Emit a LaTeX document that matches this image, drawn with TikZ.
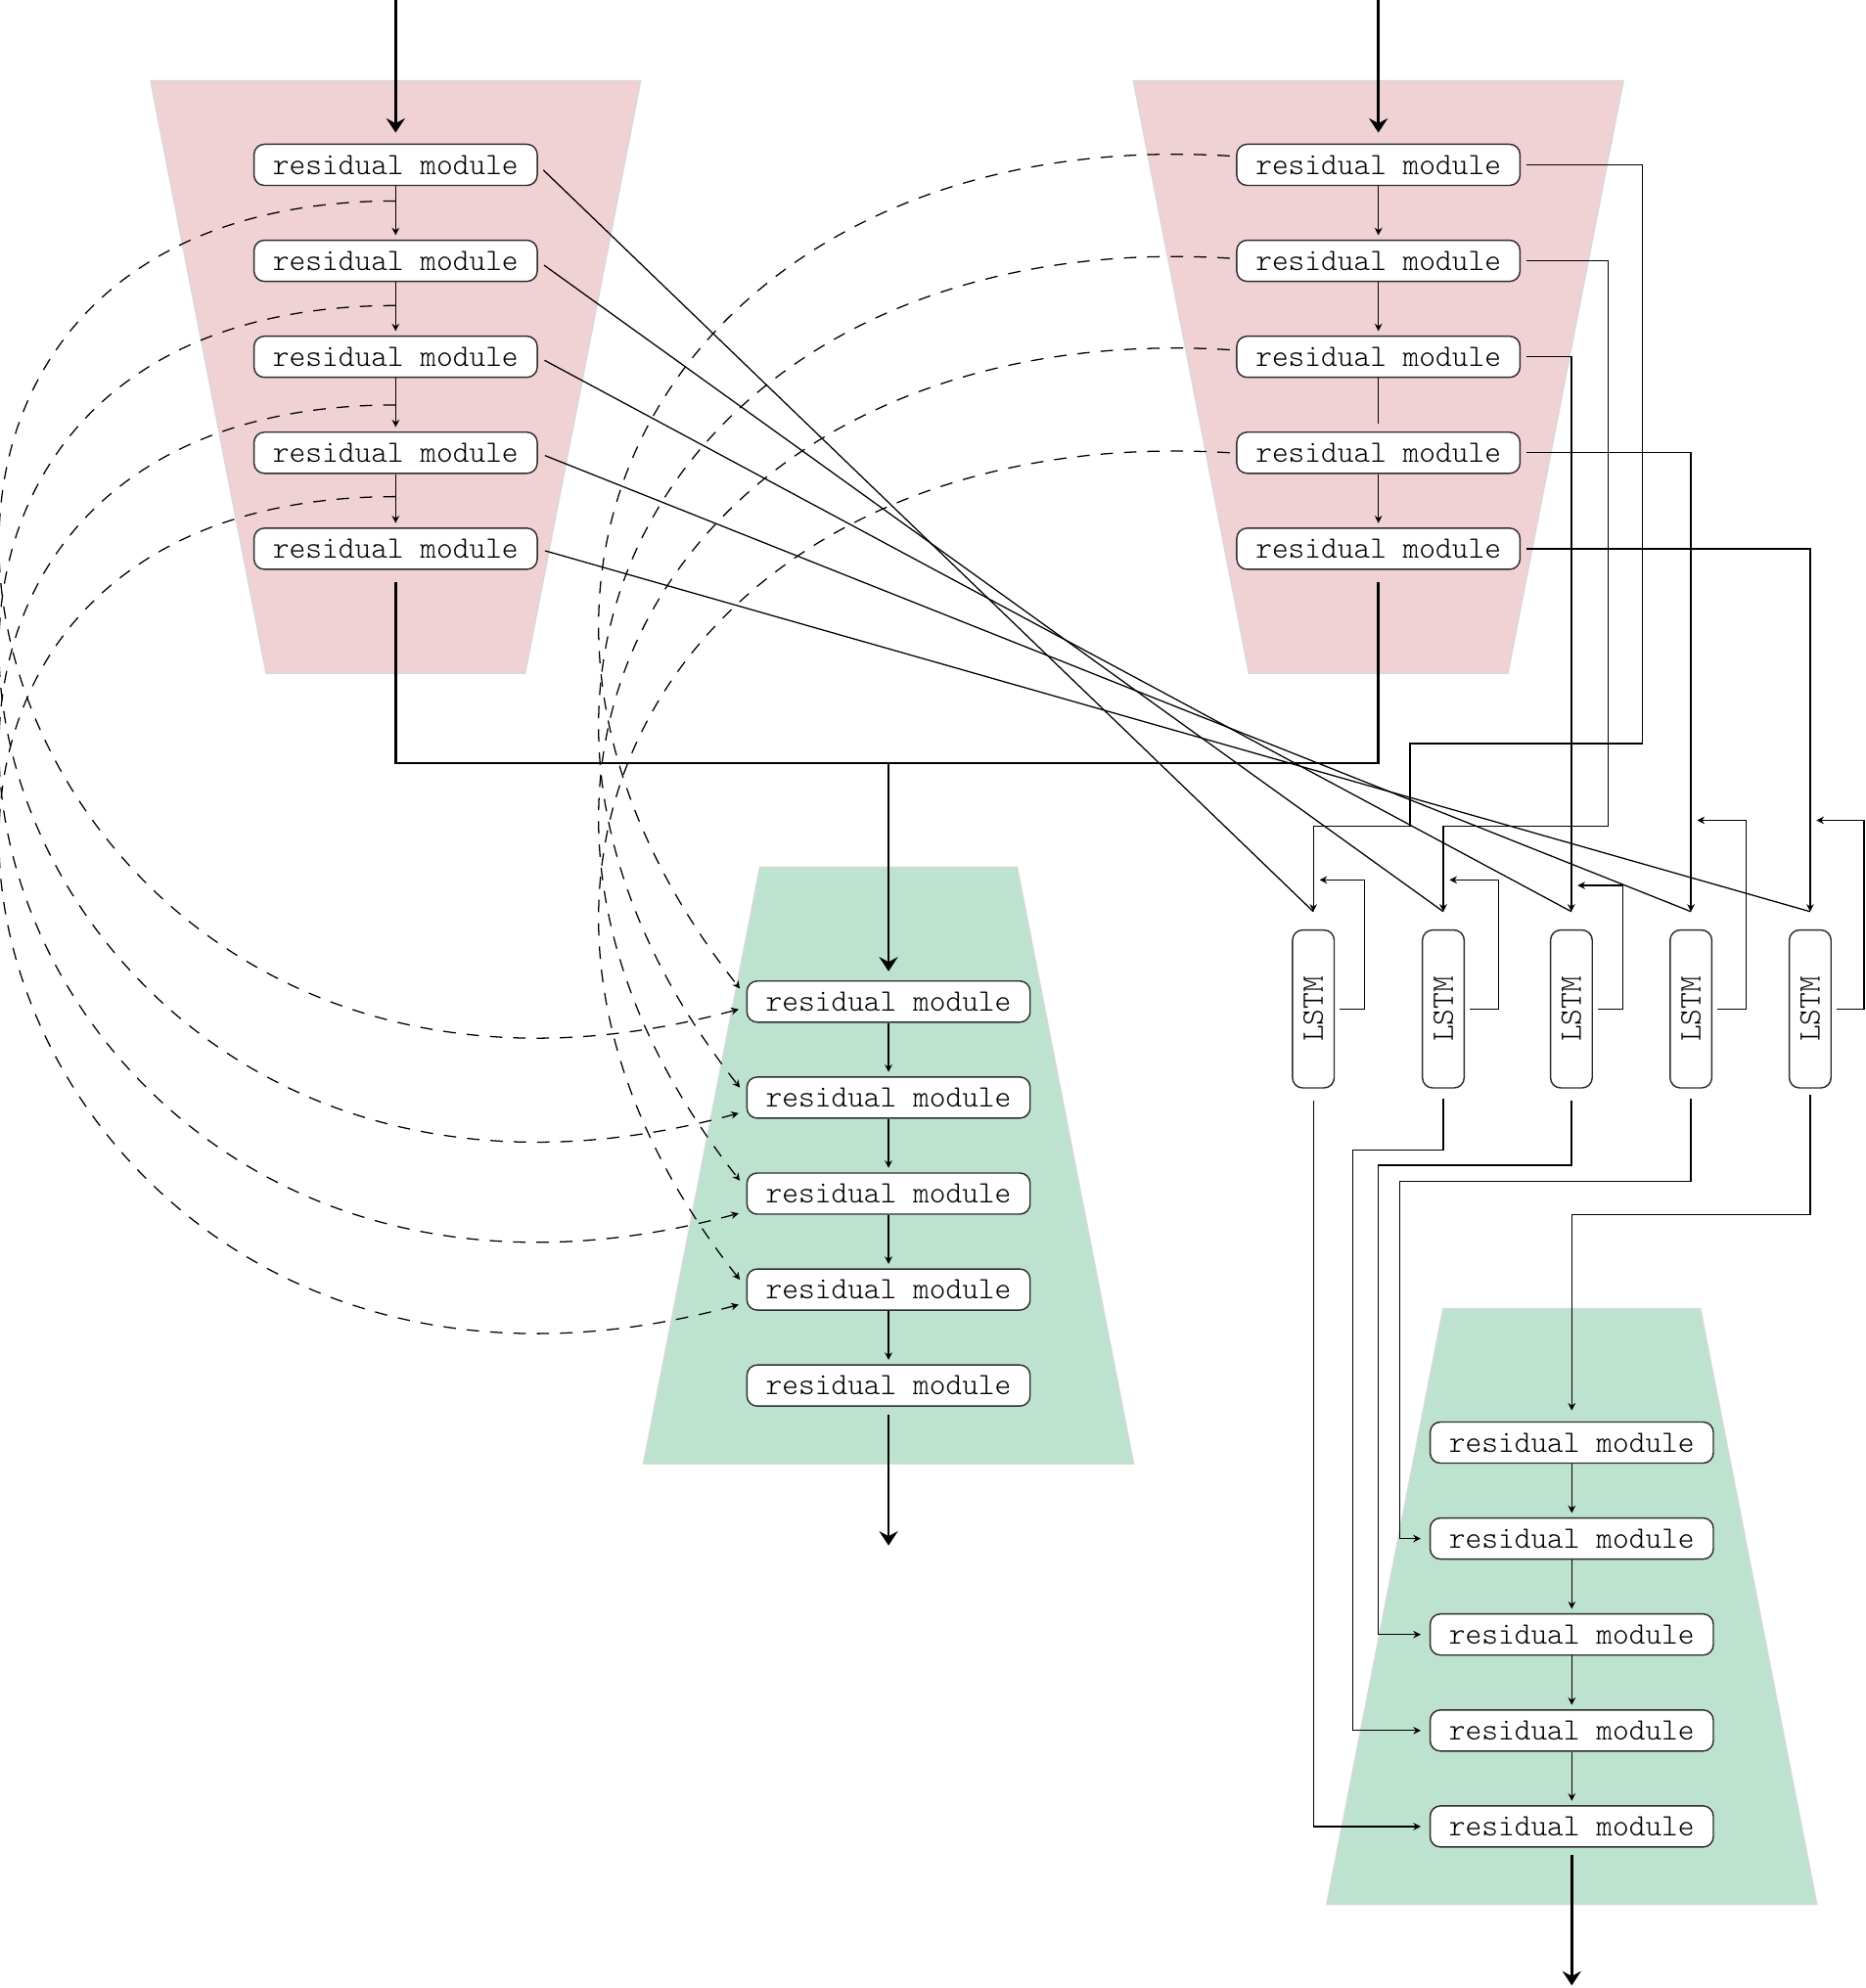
\documentclass[tikz,border=0pt]{standalone}
\usepackage{graphicx}
\usetikzlibrary{arrows.meta,calc,backgrounds}

\definecolor{encfill}{RGB}{240,209,212}
\definecolor{decfill}{RGB}{190,226,208}
\definecolor{boxline}{RGB}{45,45,45}

\tikzset{
  resmod/.style={draw=boxline, fill=white, rounded corners=3.3pt,
    font=\ttfamily\fontseries{l}\selectfont,
    minimum width=90.9pt, minimum height=13.2pt, inner sep=0pt, line width=0.45pt},
  lstm/.style={draw=boxline, fill=white, rounded corners=3.3pt,
    font=\ttfamily\fontseries{l}\selectfont,
    minimum width=13.4pt, minimum height=50.7pt, inner sep=0pt, line width=0.45pt},
  link/.style={line width=0.4pt},
  arr/.style={link, -{Stealth[length=2.4pt,width=2.4pt]}},
  mainarr/.style={line width=0.8pt, -{Stealth[length=4.6pt,width=6pt,inset=1.6pt]}},
  skip/.style={link, dash pattern=on 4pt off 3.5pt, -{Stealth[length=2.4pt,width=2.4pt]}},
  enc/.style={fill=encfill, draw=black!15, line width=0.4pt},
  dec/.style={fill=decfill, draw=black!15, line width=0.4pt},
}

\begin{document}
\begin{tikzpicture}[x=0.407pt,y=-0.407pt]
  \useasboundingbox (0,0) rectangle (1471,1568);

  % the four stacks of residual modules
  \foreach \i in {1,...,5} {
    \node[resmod] (a\i) at (312,{130+75.7*(\i-1)}) {residual module};
    \node[resmod] (b\i) at (1087,{130+75.7*(\i-1)}) {residual module};
    \node[resmod] (c\i) at (700.7,{790+75.7*(\i-1)}) {residual module};
    \node[resmod] (d\i) at (1239.5,{1137.8+75.7*(\i-1)}) {residual module};
  }

  % recurrent cells
  \foreach \i/\x in {1/1035.7,2/1138.2,3/1239.2,4/1333.5,5/1427.5} {
    \node[lstm] (l\i) at (\x,795.8) {\rotatebox{90}{LSTM}};
    \coordinate (t\i) at (\x,719);
  }

  \begin{pgfonlayer}{background}
    \path[enc] ($(a1)+(-193.3,-66.3)$) -- ($(a1)+(193.3,-66.3)$)
      -- ($(a5)+(102.2,98.2)$) -- ($(a5)+(-102.2,98.2)$) -- cycle;
    \path[enc] ($(b1)+(-193.3,-66.3)$) -- ($(b1)+(193.3,-66.3)$)
      -- ($(b5)+(102.2,98.2)$) -- ($(b5)+(-102.2,98.2)$) -- cycle;
    \path[dec] ($(c1)+(-101.5,-106.2)$) -- ($(c1)+(101.5,-106.2)$)
      -- ($(c5)+(193.4,61.8)$) -- ($(c5)+(-193.4,61.8)$) -- cycle;
    \path[dec] ($(d1)+(-101.5,-105.8)$) -- ($(d1)+(101.5,-105.8)$)
      -- ($(d5)+(193.4,61.6)$) -- ($(d5)+(-193.4,61.6)$) -- cycle;
  \end{pgfonlayer}

  % inputs, merge and outputs
  \coordinate (in1) at (312,0);
  \coordinate (in2) at (1087,0);
  \coordinate (mrg) at (700.7,602);
  \coordinate (out1) at (700.7,1219);
  \coordinate (out2) at (1239.5,1566);
  \draw[mainarr, shorten >=3.5pt] (in1) -- (a1);
  \draw[mainarr, shorten >=3.5pt] (in2) -- (b1);
  \draw[line width=0.8pt] ([yshift=-4pt]a5.south) -- (a5 |- mrg) -- (b5 |- mrg)
    -- ([yshift=-4pt]b5.south);
  \draw[mainarr, shorten >=2.9pt] (mrg) -- (c1);
  \draw[mainarr, shorten <=2.4pt] (c5) -- (out1);
  \draw[mainarr, shorten <=2.4pt] (d5) -- (out2);

  % inside the stacks
  \foreach \i [count=\j from 2] in {1,...,4} {
    \draw[arr, shorten >=1.4pt] (a\i) -- (a\j);
    \draw[arr, shorten >=1.4pt] (c\i) -- (c\j);
    \draw[arr, shorten >=1.4pt] (d\i) -- (d\j);
  }
  \foreach \i/\j in {1/2,2/3,4/5}
    \draw[arr, shorten >=1.4pt] (b\i) -- (b\j);
  \draw[link, shorten >=2.4pt] (b3) -- (b4);

  % into the LSTMs
  \foreach \i in {1,...,5}
    \draw[link, shorten <=2.4pt] (a\i.east) -- (t\i);
  \draw[arr, shorten <=2pt] (b1.east) -| (1295,586.4) -| (1112,651.4) -| (t1);
  \draw[arr, shorten <=2pt] (b2.east) -| (1268,651.4) -| (t2);
  \foreach \i in {3,4,5}
    \draw[arr, shorten <=2pt] (b\i.east) -| (t\i);

  % recurrence
  \foreach \i/\lx/\ly in {1/1076.2/694,2/1182/694,3/1279.6/698.4,4/1377/647,5/1470/647} {
    \coordinate (lp\i) at (\lx,\ly);
    \draw[arr, shorten <=1.6pt, shorten >=2pt] (l\i.east) -| (lp\i) -- (lp\i -| l\i);
  }

  % out of the LSTMs
  \draw[arr, shorten <=4pt, shorten >=2.8pt] (l1.south) |- (d5.west);
  \draw[arr, shorten <=3.3pt, shorten >=2.8pt] (l2.south) |- (1066.7,907) |- (d4.west);
  \draw[arr, shorten <=4pt, shorten >=2.8pt] (l3.south) |- (1086.9,919) |- (d3.west);
  \draw[arr, shorten <=3.3pt, shorten >=2.8pt] (l4.south) |- (1103.6,932) |- (d2.west);
  \draw[arr, shorten <=2pt, shorten >=3.5pt] (l5.south) |- (1239.5,958) -- (d1);

  % skip connections
  \foreach \i/\so/\eo/\ro/\fo in {1/28.5/6/-7/-10.3, 2/35.3/12.3/-2/-7.9,
                                  3/38/15.6/-5.5/-10.2, 4/34.6/11.9/0/-7.7} {
    \coordinate (ls\i) at ($(a\i)+(0,\so)$);
    \coordinate (le\i) at ($(c\i.west)+(-6,\eo)$);
    \draw[skip] (ls\i) .. controls ($(ls\i)+(-542,0)$) and ($(le\i)+(-603,164)$) .. (le\i);
    \coordinate (rs\i) at ($(b\i.west)+(-5,\ro)$);
    \coordinate (re\i) at ($(c\i.west)+(-5,\fo)$);
    \draw[skip] (rs\i) .. controls ($(rs\i)+(-420,-26)$) and ($(re\i)+(-260,-330)$) .. (re\i);
  }
\end{tikzpicture}
\end{document}
